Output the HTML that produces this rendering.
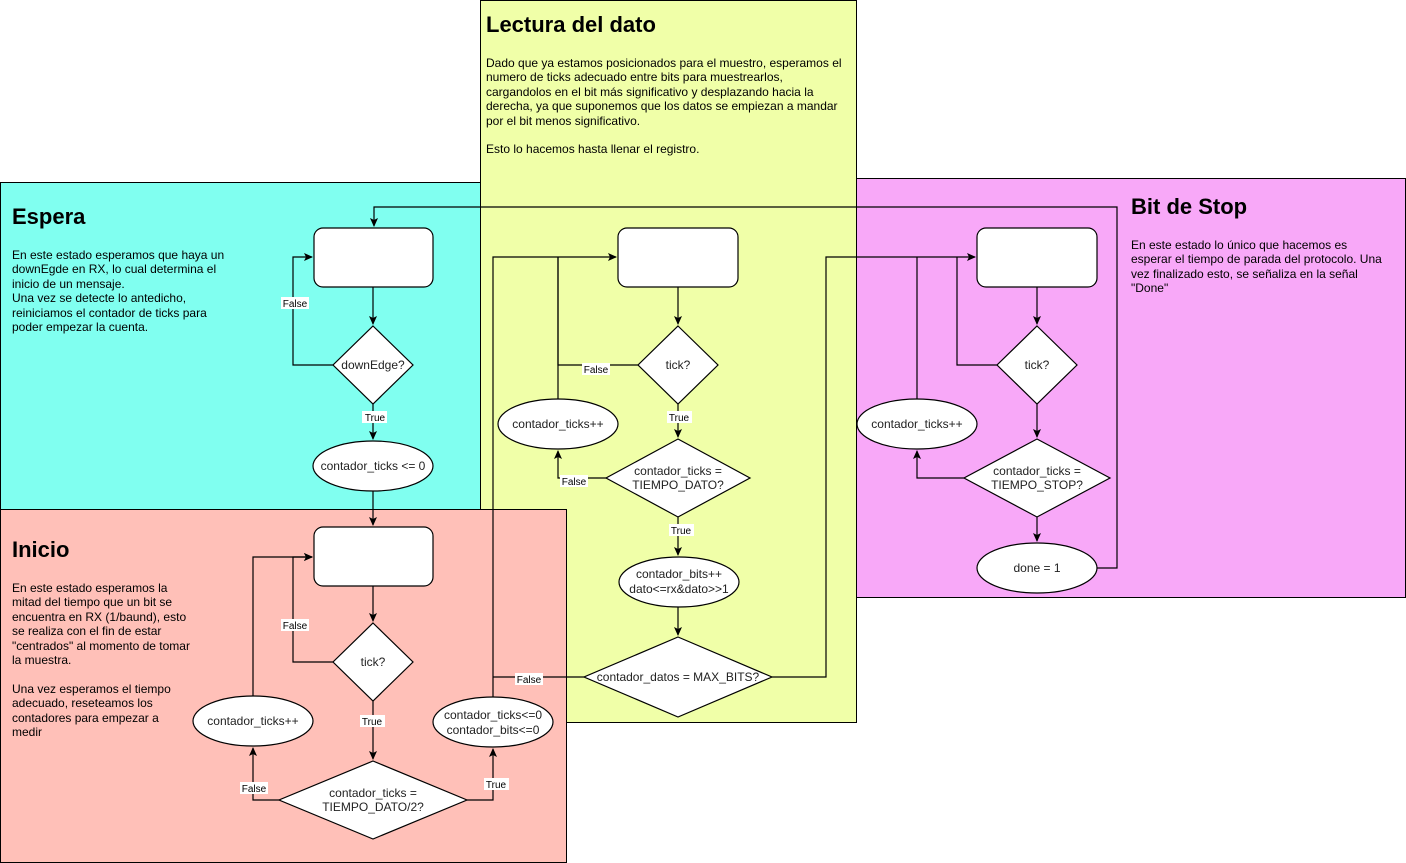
<!DOCTYPE html>
<html><head><meta charset="utf-8"><style>
html,body{margin:0;padding:0;background:#fff;width:1406px;height:863px;overflow:hidden;font-family:"Liberation Sans",Arial,sans-serif}
.t{position:absolute;font-size:12px;line-height:14.4px;color:#000;white-space:nowrap}
.h{position:absolute;font-size:22px;font-weight:bold;color:#000}
svg{position:absolute;left:0;top:0}
</style></head><body>
<svg width="1406" height="863" viewBox="0 0 1406 863" font-family="Liberation Sans, Arial, sans-serif" font-size="11">
<defs><marker id="a" markerWidth="10" markerHeight="10" refX="8" refY="4" orient="auto" markerUnits="userSpaceOnUse"><path d="M0,0 L9,4 L0,8 L2,4 z" fill="#000"/></marker></defs>
<rect x="0.5" y="182.5" width="480" height="328" fill="#80FFF0" stroke="#000"/>
<rect x="480.5" y="0.5" width="376" height="722" fill="#F0FFA8" stroke="#000"/>
<rect x="0.5" y="509.5" width="566" height="353" fill="#FFC0B8" stroke="#000"/>
<rect x="856.5" y="178.5" width="549" height="419" fill="#F8A8F8" stroke="#000"/>
<g fill="none" stroke="#000" stroke-width="1.2">
<path d="M333,365 H293 V257 H312" marker-end="url(#a)"/>
<path d="M373,287 V324" marker-end="url(#a)"/>
<path d="M373,404 V439" marker-end="url(#a)"/>
<path d="M373,491 V525" marker-end="url(#a)"/>
<path d="M373,586 V621" marker-end="url(#a)"/>
<path d="M333,662 H293 V557 H312" marker-end="url(#a)"/>
<path d="M373,701 V759" marker-end="url(#a)"/>
<path d="M279,800 H253 V748" marker-end="url(#a)"/>
<path d="M253,696 V557 H312" marker-end="url(#a)"/>
<path d="M467,800 H493 V749" marker-end="url(#a)"/>
<path d="M493,697 V257 H616" marker-end="url(#a)"/>
<path d="M678,287 V324" marker-end="url(#a)"/>
<path d="M638,365 H558 V257"/>
<path d="M558,399 V257"/>
<path d="M678,404 V437" marker-end="url(#a)"/>
<path d="M606,478 H558 V451" marker-end="url(#a)"/>
<path d="M678,517 V555" marker-end="url(#a)"/>
<path d="M678,607 V635" marker-end="url(#a)"/>
<path d="M584,677 H493"/>
<path d="M772,677 H826 V257 H975" marker-end="url(#a)"/>
<path d="M1037,287 V324" marker-end="url(#a)"/>
<path d="M997,365 H957 V257"/>
<path d="M917,399 V257"/>
<path d="M1037,404 V437" marker-end="url(#a)"/>
<path d="M964,478 H917 V451" marker-end="url(#a)"/>
<path d="M1037,517 V541" marker-end="url(#a)"/>
<path d="M1097,568 H1117 V207 H374 V226" marker-end="url(#a)"/>
</g>
<g fill="#fff" stroke="#000" stroke-width="1.2">
<rect x="314" y="228" width="119" height="59" rx="9"/>
<polygon points="373,326 413,365 373,404 333,365"/>
<ellipse cx="373" cy="466" rx="60" ry="25"/>
<rect x="314" y="527" width="119" height="59" rx="9"/>
<polygon points="373,623 413,662 373,701 333,662"/>
<polygon points="373,761 467,800 373,839 279,800"/>
<ellipse cx="253" cy="721" rx="60" ry="25"/>
<ellipse cx="493" cy="722" rx="60" ry="25"/>
<rect x="618" y="228" width="120" height="59" rx="9"/>
<polygon points="678,326 718,365 678,404 638,365"/>
<ellipse cx="558" cy="424" rx="60" ry="25"/>
<polygon points="678,439 750,478 678,517 606,478"/>
<ellipse cx="679" cy="582" rx="60" ry="25"/>
<polygon points="678,637 772,677 678,717 584,677"/>
<rect x="977" y="228" width="120" height="59" rx="9"/>
<polygon points="1037,326 1077,365 1037,404 997,365"/>
<ellipse cx="917" cy="424" rx="60" ry="25"/>
<polygon points="1037,439 1110,478 1037,517 964,478"/>
<ellipse cx="1037" cy="568" rx="60" ry="25"/>
</g>
<g fill="#fff">
<rect x="281" y="297" width="28" height="12"/><rect x="362" y="411" width="25" height="12"/>
<rect x="281" y="619" width="28" height="12"/><rect x="360" y="715" width="25" height="12"/>
<rect x="240" y="782" width="28" height="12"/><rect x="484" y="778" width="25" height="12"/>
<rect x="582" y="363" width="28" height="12"/><rect x="667" y="411" width="25" height="12"/>
<rect x="560" y="475" width="28" height="12"/><rect x="669" y="524" width="25" height="12"/>
<rect x="515" y="673" width="28" height="12"/>
</g>
<g fill="#000" text-anchor="middle" font-size="10">
<text x="295" y="307">False</text><text x="375" y="421">True</text>
<text x="295" y="629">False</text><text x="372" y="725">True</text>
<text x="254" y="792">False</text><text x="496" y="788">True</text>
<text x="596" y="373">False</text><text x="679" y="421">True</text>
<text x="574" y="485">False</text><text x="681" y="534">True</text>
<text x="529" y="683">False</text>
</g>
<g fill="#222" text-anchor="middle" font-size="12">
<text x="373" y="369">downEdge?</text>
<text x="373" y="470">contador_ticks &lt;= 0</text>
<text x="373" y="666">tick?</text>
<text x="373" y="797">contador_ticks =</text><text x="373" y="811">TIEMPO_DATO/2?</text>
<text x="253" y="725">contador_ticks++</text>
<text x="493" y="719">contador_ticks&lt;=0</text><text x="493" y="734">contador_bits&lt;=0</text>
<text x="678" y="369">tick?</text>
<text x="558" y="428">contador_ticks++</text>
<text x="678" y="475">contador_ticks =</text><text x="678" y="489">TIEMPO_DATO?</text>
<text x="679" y="578">contador_bits++</text><text x="679" y="593">dato&lt;=rx&amp;dato&gt;&gt;1</text>
<text x="678" y="681">contador_datos = MAX_BITS?</text>
<text x="1037" y="369">tick?</text>
<text x="917" y="428">contador_ticks++</text>
<text x="1037" y="475">contador_ticks =</text><text x="1037" y="489">TIEMPO_STOP?</text>
<text x="1037" y="572">done = 1</text>
</g>
</svg>
<div class="h" style="left:12px;top:204px">Espera</div>
<div class="t" style="left:12px;top:248px">En este estado esperamos que haya un<br>downEgde en RX, lo cual determina el<br>inicio de un mensaje.<br>Una vez se detecte lo antedicho,<br>reiniciamos el contador de ticks para<br>poder empezar la cuenta.</div>
<div class="h" style="left:12px;top:537px">Inicio</div>
<div class="t" style="left:12px;top:581px">En este estado esperamos la<br>mitad del tiempo que un bit se<br>encuentra en RX (1/baund), esto<br>se realiza con el fin de estar<br>"centrados" al momento de tomar<br>la muestra.<br><br>Una vez esperamos el tiempo<br>adecuado, reseteamos los<br>contadores para empezar a<br>medir</div>
<div class="h" style="left:486px;top:12px">Lectura del dato</div>
<div class="t" style="left:486px;top:56px">Dado que ya estamos posicionados para el muestro, esperamos el<br>numero de ticks adecuado entre bits para muestrearlos,<br>cargandolos en el bit más significativo y desplazando hacia la<br>derecha, ya que suponemos que los datos se empiezan a mandar<br>por el bit menos significativo.<br><br>Esto lo hacemos hasta llenar el registro.</div>
<div class="h" style="left:1131px;top:194px">Bit de Stop</div>
<div class="t" style="left:1131px;top:238px">En este estado lo único que hacemos es<br>esperar el tiempo de parada del protocolo. Una<br>vez finalizado esto, se señaliza en la señal<br>"Done"</div>
</body></html>
